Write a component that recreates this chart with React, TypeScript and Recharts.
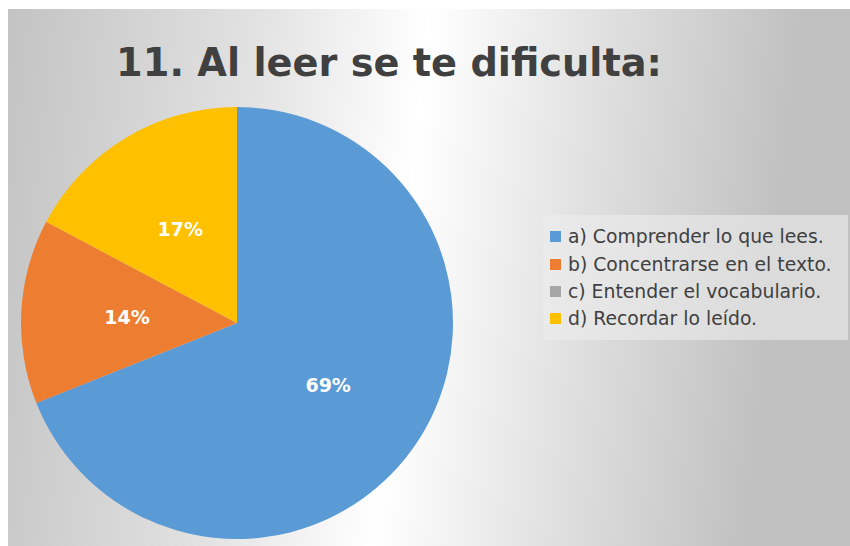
import { Cell, Legend, Pie, PieChart } from "recharts"

const categories = [
  "a) Comprender lo que lees.",
  "b) Concentrarse en el texto.",
  "c) Entender el vocabulario.",
  "d) Recordar lo leído.",
]
const responses = [20, 4, 0, 5]
const colors = ["#5b9bd5", "#ed7d31", "#a5a5a5", "#ffc000"]
const title = "11. Al leer se te dificulta:"

const data = categories.map((name, i) => ({ name, value: responses[i] }))

const RAD = Math.PI / 180

function renderLabel(props: any) {
  const { cx, cy, midAngle, outerRadius, percent, value } = props
  if (!value) return null
  const r = outerRadius * 0.51
  const x = cx + r * Math.cos(-midAngle * RAD)
  const y = cy + r * Math.sin(-midAngle * RAD)
  return (
    <text
      x={x}
      y={y}
      fill="#ffffff"
      textAnchor="middle"
      dominantBaseline="central"
      fontFamily="DejaVu Sans"
      fontWeight="bold"
      fontSize={19}
    >
      {`${Math.round(percent * 100)}%`}
    </text>
  )
}

function LegendBox() {
  return (
    <div
      style={{
        width: 305,
        height: 125,
        boxSizing: "border-box",
        background: "rgba(236,236,236,0.6)",
        padding: "8px 0 0 7px",
        fontFamily: "DejaVu Sans",
        fontSize: 18.8,
        color: "#404040",
      }}
    >
      {categories.map((c, i) => (
        <div key={c} style={{ display: "flex", alignItems: "center", height: 27.4, whiteSpace: "nowrap" }}>
          <span style={{ width: 11, height: 11, background: colors[i], marginRight: 7, flexShrink: 0 }} />
          <span>{c}</span>
        </div>
      ))}
    </div>
  )
}

export default function App() {
  return (
    <div
      style={{
        position: "fixed",
        left: 8,
        top: 9,
        width: 842,
        height: 537,
        background: "linear-gradient(96deg, #c3c3c3 0%, #e2e2e2 28%, #ffffff 47%, #dedede 68%, #c1c1c1 88%, #c0c0c0 100%)",
      }}
    >
      <svg width={842} height={100} style={{ position: "absolute", left: 0, top: 0 }}>
        <text
          x={381}
          y={67}
          textAnchor="middle"
          fontFamily="DejaVu Sans"
          fontWeight="bold"
          fontSize={38.3}
          fill="#404040"
        >
          {title}
        </text>
      </svg>
      <PieChart
        width={842}
        height={537}
        margin={{ top: 0, right: 0, bottom: 0, left: 0 }}
        style={{ position: "absolute", left: 0, top: 0 }}
      >
        <Pie
          data={data}
          dataKey="value"
          nameKey="name"
          cx={229}
          cy={314}
          outerRadius={216}
          startAngle={90}
          endAngle={-270}
          stroke="none"
          labelLine={false}
          label={renderLabel}
          isAnimationActive={false}
        >
          {data.map((d, i) => (
            <Cell key={d.name} fill={colors[i]} />
          ))}
        </Pie>
        <Legend
          content={() => <LegendBox />}
          wrapperStyle={{ left: 535, top: 206, width: 305 }}
        />
      </PieChart>
    </div>
  )
}
